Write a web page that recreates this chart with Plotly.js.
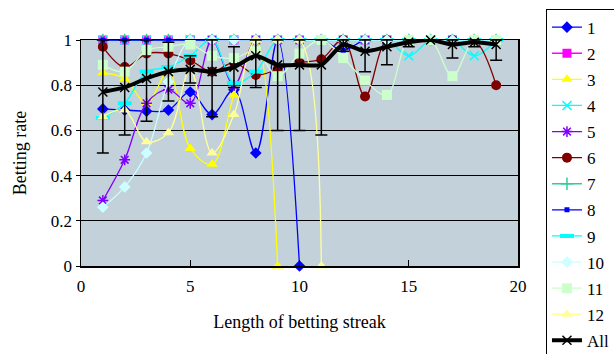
<!DOCTYPE html>
<html><head><meta charset="utf-8">
<script src="https://cdn.plot.ly/plotly-3.0.1.min.js"></script>
<style>html,body{margin:0;padding:0;background:#fff}#chart{width:614px;height:354px}</style>
</head><body><div id="chart"></div>
<script>
const streak = [1,2,3,4,5,6,7,8,9,10,11,12,13,14,15,16,17,18,19];
const s1  = [0.695,0.69,0.685,0.69,0.77,0.67,0.78,0.50,1.0,0];
const s2  = [1,1,1,1,1,1,1,1,1,1,1,1,1,1,1,1,1,1,1];
const s3  = [0.855,0.83,0.72,0.86,0.52,0.45,0.757,1.0,0];
const s4  = [1,1,1,1,1,1,1,1,1,1,1,1,1,1,0.93,1,1,0.93,1];
const s5  = [0.29,0.47,0.72,0.78,0.72,1.0,0.80,1,1,1,1,1,1,1,1,1,1,1,1];
const s6  = [0.97,0.88,0.94,0.94,0.91,0.86,0.90,0.845,0.87,0.90,0.915,1.0,0.75,1.0,1.0,1.0,1.0,1.0,0.80];
const s7  = [1,1,1,1,1,1,1,1,1,1,1,1,1,1,1,1,1,1,1];
const s8  = [1,1,1,1,1,1,1,1,1,1,1,0.955,1,1,1,1,1,1,1];
const s9  = [0.655,0.72,0.86,0.88,0.93,1.0,0.81,0.86,1,1,1,1,1,1,1,1,1,1,1];
const s10 = [0.26,0.35,0.50,0.815,1,1,1,1,1,1,1,1,1,1,1,1,1,1,1];
const s11 = [0.89,0.86,0.955,0.97,0.98,0.93,0.92,0.95,0.84,0.94,1.0,0.92,0.82,0.757,1.0,1.0,0.84,1.0,1.0];
const s12 = [0.66,0.69,0.55,0.59,0.87,0.50,0.67,1.0,1.0,1.0,0];
const sAll = [0.77,0.79,0.83,0.86,0.87,0.86,0.88,0.93,0.89,0.89,0.89,0.98,0.95,0.97,0.99,1.0,0.98,0.99,0.98];
const errAll = [0.27,0.21,0.19,0.13,0.06,0.20,0.09,0.14,0.29,0.29,0.31,0.03,0.09,0.08,0.02,0,0.06,0.02,0.07];
const names = ['1','2','3','4','5','6','7','8','9','10','11','12'];
const xTicks = [0,5,10,15,20];
const yTicks = [0,0.2,0.4,0.6,0.8,1];

const seriesVals = [s1,s2,s3,s4,s5,s6,s7,s8,s9,s10,s11,s12];
const styles = [
  {c:'#0000FF', sym:'diamond', size:9},
  {c:'#FF00FF', sym:'square', size:9},
  {c:'#FFFF00', sym:'triangle-up', size:10},
  {c:'#00FFFF', sym:'x-thin-open', size:9, lw:1.5},
  {c:'#8000FF', sym:'asterisk-open', size:9, lw:1.5},
  {c:'#800000', sym:'circle', size:10},
  {c:'#33CC99', sym:'cross-thin-open', size:9, lw:1.5},
  {c:'#0000FF', sym:'square', size:5},
  {c:'#00FFFF', sym:'line-ew-open', size:10, lw:4},
  {c:'#CCFFFF', sym:'diamond', size:9},
  {c:'#CCFFCC', sym:'square', size:10},
  {c:'#FFFF99', sym:'triangle-up', size:10}
];
const traces = seriesVals.map((v,i)=>{
  const st = styles[i];
  const mk = {symbol:st.sym, size:st.size, color:st.c};
  if (st.lw) mk.line = {color:st.c, width:st.lw};
  return {x:streak.slice(0,v.length), y:v, name:names[i], legendgroup:'g'+i, type:'scatter', mode:'lines+markers',
    line:{color:st.c, width:1.3, shape:'spline', smoothing:1}, marker:mk, cliponaxis:false};
});
const errPlus = sAll.map((v,i)=>Math.min(errAll[i], 1-v));
traces.push({x:streak, y:sAll, name:'All', legendgroup:'gAll', type:'scatter', mode:'lines+markers',
  line:{color:'#000', width:4, shape:'spline', smoothing:0.6},
  marker:{symbol:'x-thin-open', size:9, color:'#000', line:{color:'#000', width:1.5}},
  error_y:{type:'data', symmetric:false, array:errPlus, arrayminus:errAll, color:'#000', thickness:1.5, width:6},
  cliponaxis:false});

const font = {family:'"Liberation Serif", "Times New Roman", serif', color:'#000'};
const layout = {
  width:614, height:354,
  margin:{l:81, r:96, t:40, b:88, pad:0, autoexpand:false},
  paper_bgcolor:'#fff', plot_bgcolor:'#C3D2DA',
  font:Object.assign({size:16}, font),
  showlegend:true,
  legend:{x:1.064, xanchor:'left', y:1.139, yanchor:'top', bordercolor:'#000', borderwidth:1,
    bgcolor:'#fff', font:Object.assign({size:17}, font), tracegroupgap:1, maxheight:800, itemwidth:30},
  xaxis:{range:[0,20], tickvals:xTicks, ticktext:xTicks.map(String), ticks:'inside', ticklen:6, tickcolor:'#000',
    showgrid:false, zeroline:false, showline:true, linecolor:'#000', linewidth:1.5, mirror:true,
    ticklabelstandoff:4,
    tickfont:Object.assign({size:17}, font),
    title:{text:'Length of betting streak', font:Object.assign({size:18}, font), standoff:20}},
  yaxis:{range:[0,1], tickvals:yTicks, ticktext:['0','0.2','0.4','0.6','0.8','1'], ticks:'outside', ticklen:4, tickcolor:'#000',
    showgrid:true, gridcolor:'#000', gridwidth:1.3, zeroline:false, showline:true, linecolor:'#000', linewidth:1.5, mirror:true,
    tickfont:Object.assign({size:17}, font),
    title:{text:'Betting rate', font:Object.assign({size:18}, font), standoff:19}}
};
Plotly.newPlot('chart', traces, layout, {displayModeBar:false, staticPlot:true});
</script></body></html>
